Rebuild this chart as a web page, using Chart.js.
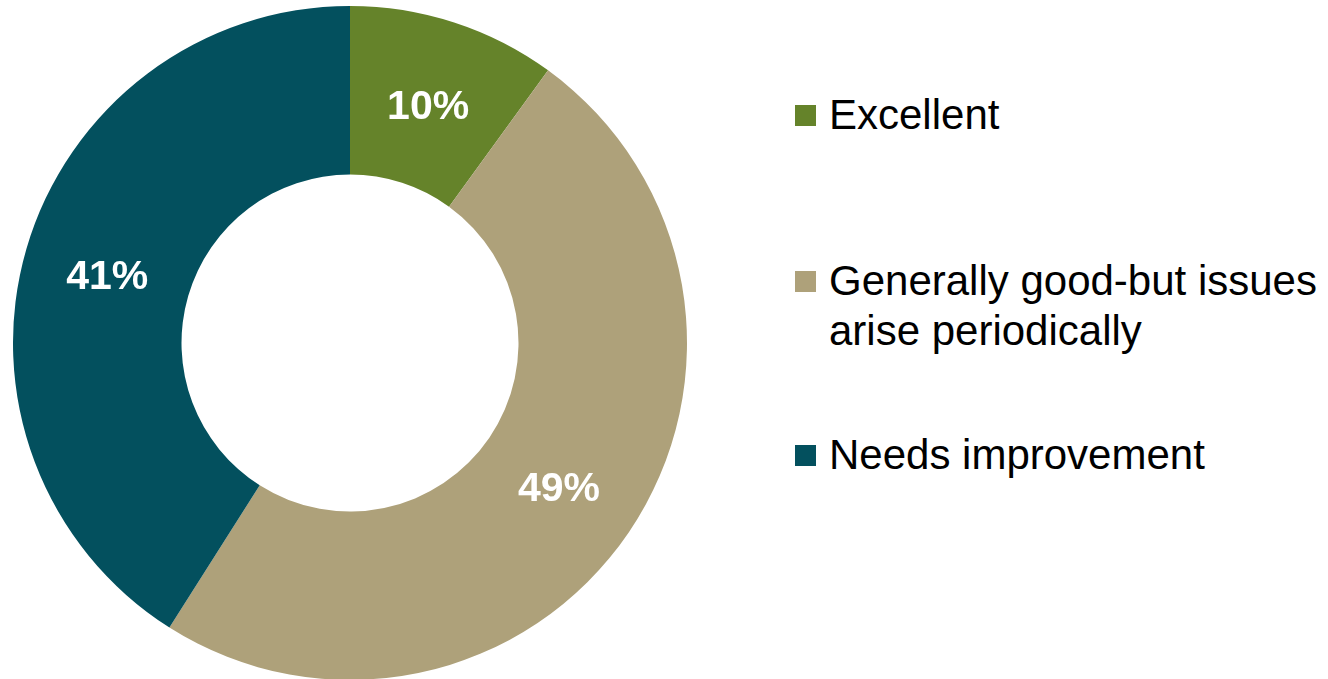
<!DOCTYPE html>
<html>
<head>
<meta charset="utf-8">
<script src="https://cdn.jsdelivr.net/npm/chart.js@4"></script>
<style>
  html, body { margin: 0; padding: 0; background: #fff; overflow: hidden; }
  body { width: 1328px; height: 679px; position: relative; font-family: "Liberation Sans", Arial, sans-serif; }
  #chartBox { position: absolute; left: 13px; top: 6px; width: 674px; height: 674px; }
  #legend { position: absolute; left: 795px; top: 90px; margin: 0; padding: 0; list-style: none; }
  #legend li { position: relative; padding-left: 34px; width: 500px; font-size: 42px; line-height: 50px; color: #000; }
  #legend li:nth-child(2) { margin-top: 116px; }
  #legend li:nth-child(3) { margin-top: 74px; }
  #legend .box { position: absolute; left: 0; top: 15px; width: 21px; height: 21px; }
</style>
</head>
<body>
<div id="chartBox"><canvas id="ratingChart"></canvas></div>
<ul id="legend"></ul>
<script>
// Ratings breakdown
const categories = ["Excellent", "Generally good-but issues arise periodically", "Needs improvement"];
const shares = [10, 49, 41];
const colors = ["#65832A", "#AEA17A", "#03505E"];

// Percent labels in the middle of each ring segment
const sliceLabels = {
  id: "sliceLabels",
  afterDatasetsDraw(chart) {
    const ctx = chart.ctx;
    const meta = chart.getDatasetMeta(0);
    ctx.save();
    ctx.fillStyle = "#fff";
    ctx.font = "bold 41px 'Liberation Sans', Arial, sans-serif";
    ctx.textAlign = "center";
    ctx.textBaseline = "middle";
    meta.data.forEach((arc, i) => {
      const p = arc.tooltipPosition();
      ctx.fillText(shares[i] + "%", p.x, p.y + 5);
    });
    ctx.restore();
  }
};

new Chart(document.getElementById("ratingChart"), {
  type: "doughnut",
  data: {
    labels: categories,
    datasets: [{
      data: shares,
      backgroundColor: colors,
      borderWidth: 0
    }]
  },
  options: {
    responsive: true,
    maintainAspectRatio: false,
    animation: false,
    cutout: "50%",
    layout: { padding: 0 },
    plugins: {
      legend: { display: false },
      tooltip: { enabled: false }
    }
  },
  plugins: [sliceLabels]
});

// Legend on the right
const legend = document.getElementById("legend");
categories.forEach((name, i) => {
  const li = document.createElement("li");
  const box = document.createElement("span");
  box.className = "box";
  box.style.background = colors[i];
  li.appendChild(box);
  li.appendChild(document.createTextNode(name));
  legend.appendChild(li);
});
</script>
</body>
</html>
